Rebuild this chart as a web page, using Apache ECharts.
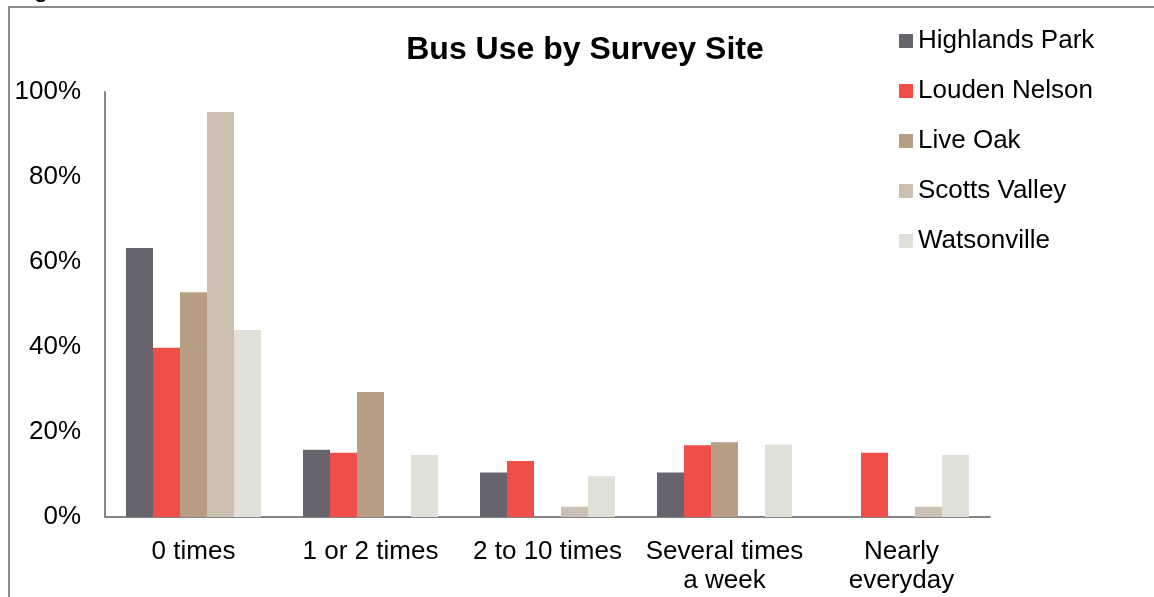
<!DOCTYPE html>
<html>
  <head>
    <meta charset="utf-8">
    <title>Bus Use by Survey Site</title>
    <script src="https://cdn.jsdelivr.net/npm/echarts@6/dist/echarts.min.js"></script>
    <style>
      html, body { margin: 0; padding: 0; background: #fff; }
      #main { width: 1154px; height: 597px; }
    </style>
  </head>
  <body>
    <div id="main"></div>
    <script>
      // categories + values (percent)
      var categories = ['0 times', '1 or 2 times', '2 to 10 times', 'Several times\na week', 'Nearly\neveryday'];
      var siteNames = ['Highlands Park', 'Louden Nelson', 'Live Oak', 'Scotts Valley', 'Watsonville'];
      var highlandsPark = [63.3, 15.8, 10.5, 10.5, 0];
      var loudenNelson  = [39.8, 15.1, 13.2, 16.9, 15.1];
      var liveOak       = [52.9, 29.4, 0, 17.6, 0];
      var scottsValley  = [95.3, 0, 2.4, 0, 2.4];
      var watsonville   = [44.0, 14.6, 9.6, 17.0, 14.6];
      var yTicks = [0, 20, 40, 60, 80, 100];

      var colors = ['#67646e', '#f04e48', '#b79d84', '#cdbfb2', '#e0e0d8'];
      var font = '"Liberation Sans", Arial, sans-serif';

      var myChart = echarts.init(document.getElementById('main'));

      function bar(name, data) {
          return {
              name: name,
              type: 'bar',
              barWidth: 27,
              barGap: '0%',
              data: data
          };
      }

      var option = {
          backgroundColor: '#ffffff',
          color: colors,
          animation: false,
          title: {
              text: 'Bus Use by Survey Site',
              left: 580,
              top: 29,
              textAlign: 'center',
              textStyle: {
                  fontFamily: font,
                  fontSize: 32,
                  fontWeight: 'bold',
                  color: '#000'
              }
          },
          legend: {
              orient: 'vertical',
              left: 894,
              top: 23,
              itemWidth: 14,
              itemHeight: 14,
              itemGap: 24,
              icon: 'rect',
              data: siteNames,
              textStyle: {
                  fontFamily: font,
                  fontSize: 26,
                  lineHeight: 26,
                  color: '#000'
              }
          },
          grid: {
              left: 105,
              right: 164,
              top: 92,
              bottom: 80
          },
          xAxis: {
              type: 'category',
              data: categories,
              axisLine: { lineStyle: { color: '#868686', width: 2 } },
              axisTick: { show: false },
              axisLabel: {
                  interval: 0,
                  margin: 20,
                  fontFamily: font,
                  fontSize: 26,
                  lineHeight: 29,
                  color: '#000'
              }
          },
          yAxis: {
              type: 'value',
              min: yTicks[0],
              max: yTicks[yTicks.length - 1],
              interval: 20,
              axisLine: { show: true, lineStyle: { color: '#868686', width: 2 } },
              axisTick: { show: false },
              splitLine: { show: false },
              axisLabel: {
                  margin: 24,
                  padding: [4, 0, 0, 0],
                  formatter: '{value}%',
                  fontFamily: font,
                  fontSize: 26,
                  color: '#000'
              }
          },
          graphic: [{
              type: 'rect',
              shape: { x: 9, y: 7, width: 1300, height: 800 },
              style: { fill: 'none', stroke: '#8c8c8c', lineWidth: 2 },
              silent: true
          }, {
              type: 'text',
              x: 12,
              y: 3,
              style: {
                  text: 'Figure',
                  font: '26px "Liberation Sans", Arial, sans-serif',
                  fill: '#000',
                  verticalAlign: 'bottom'
              },
              silent: true
          }],
          series: [
              bar(siteNames[0], highlandsPark),
              bar(siteNames[1], loudenNelson),
              bar(siteNames[2], liveOak),
              bar(siteNames[3], scottsValley),
              bar(siteNames[4], watsonville)
          ]
      };

      myChart.setOption(option);
    </script>
  </body>
</html>
